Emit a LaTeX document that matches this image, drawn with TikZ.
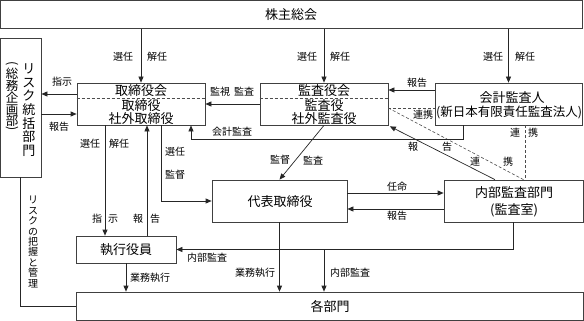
\documentclass[tikz,border=0pt]{standalone}
\usepackage{fontspec}
\usepackage{graphicx}
\setmainfont{Noto Sans CJK JP}
\usetikzlibrary{arrows.meta}
\begin{document}
\begin{tikzpicture}[x=1pt,y=-1pt,
  ln/.style={draw=black!85, line width=0.7pt},
  arr/.style={ln, -{Triangle[length=6pt,width=5pt]}},
  dsh/.style={draw=black!70, line width=0.6pt, dash pattern=on 3pt off 2pt},
  box/.style={draw=black!75, line width=0.7pt, inner sep=0pt},
  big/.style={font=\fontsize{13}{14}\selectfont, inner sep=0pt},
  mid/.style={font=\fontsize{12.5}{13}\selectfont, inner sep=0pt},
  lab/.style={font=\fontsize{10}{11}\selectfont, inner sep=0pt}]
\useasboundingbox (0,0) rectangle (584,321);

% boxes
\node[box, minimum width=581.5pt, minimum height=28pt] (sh) at (291.25,14.5) {};
\node[box, minimum width=40.5pt, minimum height=139pt] (risk) at (20.75,107.5) {};
\node[box, minimum width=128pt, minimum height=42pt] (tb) at (141,104) {};
\node[box, minimum width=128pt, minimum height=42pt] (ka) at (324,104) {};
\node[box, minimum width=147pt, minimum height=42pt] (kk) at (508.5,104) {};
\node[box, minimum width=135pt, minimum height=42pt] (dh) at (279.5,201) {};
\node[box, minimum width=139pt, minimum height=42pt] (nb) at (513.5,201) {};
\node[box, minimum width=100pt, minimum height=27pt] (sy) at (126,249.5) {};
\node[box, minimum width=507pt, minimum height=28.5pt] (bu) at (329.5,306.25) {};

% box texts
\node[big] (tsh) at (291,15) {株主総会};
\node[big, align=center, font=\fontsize{13}{13.7}\selectfont] (trisk1) at (29,110) {リ\\ス\\ク\\統\\括\\部\\門};
\node[mid] (pa1) at (12,64.5) {\rotatebox[origin=c]{-90}{(}};
\node[big, align=center, font=\fontsize{12.5}{11.8}\selectfont] (trisk2) at (12,97.5) {総\\務\\企\\画\\部};
\node[mid] (pa2) at (12,129.5) {\rotatebox[origin=c]{-90}{)}};
\node[big] (ttb1) at (141,91) {取締役会};
\node[big] (ttb2) at (141,105.5) {取締役};
\node[big] (ttb3) at (141,118.5) {社外取締役};
\node[big] (tka1) at (324,91) {監査役会};
\node[big] (tka2) at (324,105.5) {監査役};
\node[big] (tka3) at (324,118.5) {社外監査役};
\node[big] (tkk1) at (512,98) {会計監査人};
\node[mid] (tkk2) at (509,112) {(新日本有限責任監査法人)};
\node[big] (tdh) at (280,202) {代表取締役};
\node[big] (tnb1) at (514,193) {内部監査部門};
\node[big] (tnb2) at (514,210) {(監査室)};
\node[big] (tsy) at (126,250) {執行役員};
\node[big] (tbu) at (330,307) {各部門};

% dashed dividers in boxes
\draw[dsh] ([yshift=6pt]tb.west) -- ([yshift=6pt]tb.east);
\draw[dsh] ([yshift=6pt]ka.west) -- ([yshift=6pt]ka.east);

% connectors
\draw[arr] (tb.north |- sh.south) -- (tb.north);
\draw[arr] (ka.north |- sh.south) -- (ka.north);
\draw[arr] (kk.north |- sh.south) -- (kk.north);

\coordinate (p1) at ([yshift=10pt]tb.west);
\coordinate (p2) at ([yshift=-10pt]tb.west);
\draw[arr] (p1) -- (p1 -| risk.east);
\draw[arr] (p2 -| risk.east) -- (p2);

\draw[arr] (ka.west) -- (tb.east);
\draw[arr] ([yshift=14pt]kk.west) -- ([yshift=14pt]ka.east);

\coordinate (d1) at ([yshift=-4pt]ka.east);
\draw[dsh] (d1) -- (d1 -| kk.west);
\draw[dsh] (d1) -- ([xshift=10pt]nb.north);
\coordinate (d2) at ([xshift=16.5pt]kk.south);
\draw[dsh] (d2) -- (d2 |- nb.north);

\draw[arr] ([xshift=-18.5pt]nb.north) -- ([shift={(1.5pt,-1pt)}]ka.south east);

\coordinate (q1) at ([xshift=-45.5pt]kk.south);
\coordinate (q2) at ([xshift=50pt]tb.south);
\draw[arr] (q1) -- ++(0,14) -| (q2);

\draw[arr] (ka.south) -- (dh.north);
\draw[arr] ([xshift=20pt]tb.south) |- (dh.west);

\draw[arr] ([xshift=-36pt]tb.south) -- ([xshift=-21pt]sy.north);
\draw[arr] ([xshift=21pt]sy.north) -- ([xshift=6pt]tb.south);

\draw[ln] (risk.south) |- (bu.west);
\draw[arr] (sy.south) -- (sy.south |- bu.north);
\draw[arr] (dh.south) -- (dh.south |- bu.north);

\draw[arr] ([yshift=8pt]dh.east) -- ([yshift=8pt]nb.west);
\draw[arr] ([yshift=-8pt]nb.west) -- ([yshift=-8pt]dh.east);

\draw[arr] (nb.south) |- (sy.east);
\coordinate (br) at (sy.east -| ka.south);
\draw[arr] (br) -- (br |- bu.north);

% labels
\node[lab] (a1) at (123,57) {選任};
\node[lab] (a2) at (157,57) {解任};
\node[lab] (a3) at (307,57) {選任};
\node[lab] (a4) at (340,57) {解任};
\node[lab] (a5) at (493,57) {選任};
\node[lab] (a6) at (525,57) {解任};
\node[lab] (b1) at (62,82) {指示};
\node[lab] (b2) at (59,127) {報告};
\node[lab] (b3) at (232,92) {監視\hspace{4pt}監査};
\node[lab] (b4) at (417,83) {報告};
\node[lab] (b5) at (423,115) {連携};
\node[lab] (b6) at (515,133) {連};
\node[lab] (b7) at (533,133) {携};
\node[lab] (b8) at (413,147) {報};
\node[lab] (b9) at (447,147) {告};
\node[lab] (b10) at (475,162) {連};
\node[lab] (b11) at (508,162) {携};
\node[lab] (c1) at (232,132) {会計監査};
\node[lab] (c2) at (280,160) {監督};
\node[lab] (c3) at (313,161) {監査};
\node[lab] (c4) at (175,152) {選任};
\node[lab] (c5) at (175,175) {監督};
\node[lab] (c6) at (90,144) {選任};
\node[lab] (c7) at (119,144) {解任};
\node[lab] (e1) at (97,219) {指};
\node[lab] (e2) at (113,219) {示};
\node[lab] (e3) at (138,219) {報};
\node[lab] (e4) at (155,219) {告};
\node[lab] (e5) at (150,278) {業務執行};
\node[lab] (e6) at (255,273) {業務執行};
\node[lab] (e7) at (207,258) {内部監査};
\node[lab] (e8) at (350,273) {内部監査};
\node[lab] (e9) at (397,187) {任命};
\node[lab] (e10) at (397,216) {報告};
\node[lab, align=center, font=\fontsize{10}{10.4}\selectfont] (lr) at (33,242) {リ\\ス\\ク\\の\\把\\握\\と\\管\\理};
\end{tikzpicture}
\end{document}
